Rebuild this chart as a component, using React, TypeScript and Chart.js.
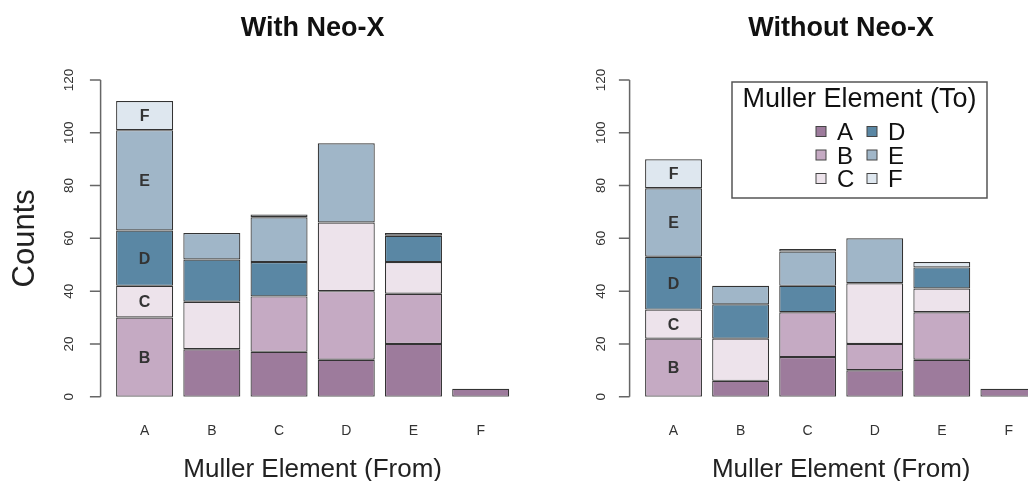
import React, { useEffect, useRef } from 'react';
import { Chart, registerables } from 'chart.js';

Chart.register(...registerables);

// Muller element the inversions come from (x categories)
const categories = ['A', 'B', 'C', 'D', 'E', 'F'];
// Muller element the inversions go to (stacked series)
const toElements = ['A', 'B', 'C', 'D', 'E', 'F'];
const yTicks = [0, 20, 40, 60, 80, 100, 120];

// With Neo-X: counts per "from" category, one array per "to" element
const withToA = [0, 18, 17, 14, 20, 3];
const withToB = [30, 0, 21, 26, 19, 0];
const withToC = [12, 18, 0, 26, 12, 0];
const withToD = [21, 16, 13, 0, 10, 0];
const withToE = [38, 10, 17, 30, 0, 0];
const withToF = [11, 0, 1, 0, 1, 0];

// Without Neo-X
const withoutToA = [0, 6, 15, 10, 14, 3];
const withoutToB = [22, 0, 17, 10, 18, 0];
const withoutToC = [11, 16, 0, 23, 9, 0];
const withoutToD = [20, 13, 10, 0, 8, 0];
const withoutToE = [26, 7, 13, 17, 0, 0];
const withoutToF = [11, 0, 1, 0, 2, 0];

const colors = ['#9d7b9c', '#c5aac3', '#ede3eb', '#5a87a4', '#a0b6c8', '#dee7ef'];
const FONT = '"Liberation Sans", Arial, Helvetica, sans-serif';

type PanelOpts = {
  title: string;
  showYTitle: boolean;
  showLegend: boolean;
  tickLabelOffset: number;
};

function makeDecor(o: PanelOpts) {
  return {
    id: 'decor',
    afterDraw(chart: any) {
      const ctx = chart.ctx as CanvasRenderingContext2D;
      const xs = chart.scales.x;
      const ys = chart.scales.y;
      const area = chart.chartArea;
      const axisX = area.left - 10.4;
      const y0 = ys.getPixelForValue(yTicks[0]);
      const y1 = ys.getPixelForValue(yTicks[yTicks.length - 1]);
      ctx.save();
      // y axis
      ctx.strokeStyle = '#666';
      ctx.lineWidth = 1.5;
      ctx.beginPath();
      ctx.moveTo(axisX, y0);
      ctx.lineTo(axisX, y1);
      yTicks.forEach((t) => {
        const py = ys.getPixelForValue(t);
        ctx.moveTo(axisX - 10.7, py);
        ctx.lineTo(axisX, py);
      });
      ctx.stroke();
      // y tick labels (rotated)
      ctx.fillStyle = '#333';
      ctx.font = `13.5px ${FONT}`;
      ctx.textAlign = 'center';
      ctx.textBaseline = 'alphabetic';
      yTicks.forEach((t) => {
        const py = ys.getPixelForValue(t);
        ctx.save();
        ctx.translate(axisX - o.tickLabelOffset + 4.8, py);
        ctx.rotate(-Math.PI / 2);
        ctx.fillText(String(t), 0, 0);
        ctx.restore();
      });
      // category labels
      ctx.fillStyle = '#333';
      ctx.font = `14px ${FONT}`;
      categories.forEach((c, i) => {
        ctx.fillText(c, xs.getPixelForValue(i), 435);
      });
      const cx = (area.left + area.right) / 2;
      // x title
      ctx.fillStyle = '#222';
      ctx.font = `26px ${FONT}`;
      ctx.fillText('Muller Element (From)', cx, 477);
      // main title
      ctx.font = `bold 27px ${FONT}`;
      ctx.fillStyle = '#111';
      ctx.fillText(o.title, cx, 36);
      // y title
      if (o.showYTitle) {
        ctx.save();
        ctx.font = `31px ${FONT}`;
        ctx.fillStyle = '#222';
        ctx.translate(34, (area.top + area.bottom) / 2);
        ctx.rotate(-Math.PI / 2);
        ctx.fillText('Counts', 0, 0);
        ctx.restore();
      }
      // segment labels inside the first bar
      ctx.font = `bold 16px ${FONT}`;
      ctx.fillStyle = '#333';
      ctx.textBaseline = 'middle';
      chart.data.datasets.forEach((ds: any, i: number) => {
        const v = ds.data[0];
        if (v == null) return;
        const el = chart.getDatasetMeta(i).data[0];
        if (!el) return;
        ctx.fillText(ds.label, el.x, (el.y + el.base) / 2 + 1);
      });
      // legend
      if (o.showLegend) {
        const bx = 172, by = 82, bw = 255, bh = 116;
        ctx.fillStyle = '#fff';
        ctx.fillRect(bx, by, bw, bh);
        ctx.strokeStyle = '#555';
        ctx.lineWidth = 1.5;
        ctx.strokeRect(bx, by, bw, bh);
        ctx.fillStyle = '#111';
        ctx.textBaseline = 'alphabetic';
        ctx.textAlign = 'center';
        ctx.font = `27px ${FONT}`;
        ctx.fillText('Muller Element (To)', bx + bw / 2, 107);
        ctx.font = `24px ${FONT}`;
        ctx.textAlign = 'left';
        const colSq = [256, 307];
        const colTx = [277, 328];
        const rowY = [131.5, 155, 178.5];
        chart.data.datasets.forEach((ds: any, i: number) => {
          const col = Math.floor(i / 3);
          const row = i % 3;
          ctx.fillStyle = ds.backgroundColor;
          ctx.fillRect(colSq[col], rowY[row] - 5, 10, 10);
          ctx.strokeStyle = '#444';
          ctx.lineWidth = 1;
          ctx.strokeRect(colSq[col], rowY[row] - 5, 10, 10);
          ctx.fillStyle = '#111';
          ctx.fillText(ds.label, colTx[col], rowY[row] + 8.6);
        });
      }
      ctx.restore();
    },
  };
}

function buildChart(canvas: HTMLCanvasElement, series: number[][], padLeft: number, padRight: number, o: PanelOpts) {
  return new Chart(canvas, {
    type: 'bar',
    data: {
      labels: categories,
      datasets: toElements.map((lab, i) => ({
        label: lab,
        data: series[i].map((v) => (v === 0 ? null : v)),
        backgroundColor: colors[i],
        borderColor: '#333',
        borderWidth: 1.2,
        borderSkipped: false,
        barPercentage: 0.848,
        categoryPercentage: 1,
      })),
    },
    options: {
      responsive: false,
      animation: false,
      layout: { padding: { left: padLeft, right: padRight, top: 80, bottom: 84.3 } },
      plugins: { legend: { display: false }, tooltip: { enabled: false }, title: { display: false } },
      scales: {
        x: { stacked: true, display: false },
        y: { stacked: true, display: false, min: 0, max: 120 },
      },
    },
    plugins: [makeDecor(o)],
  } as any);
}

export default function App() {
  const leftRef = useRef<HTMLCanvasElement>(null);
  const rightRef = useRef<HTMLCanvasElement>(null);
  useEffect(() => {
    const c1 = buildChart(
      leftRef.current!,
      [withToA, withToB, withToC, withToD, withToE, withToF],
      111,
      45.7,
      { title: 'With Neo-X', showYTitle: true, showLegend: false, tickLabelOffset: 32.4 }
    );
    const c2 = buildChart(
      rightRef.current!,
      [withoutToA, withoutToB, withoutToC, withoutToD, withoutToE, withoutToF],
      80,
      57.6,
      { title: 'Without Neo-X', showYTitle: false, showLegend: true, tickLabelOffset: 29.3 }
    );
    return () => {
      c1.destroy();
      c2.destroy();
    };
  }, []);
  return (
    <div style={{ position: 'fixed', left: 0, top: 0, width: 1028, height: 481, overflow: 'hidden', background: '#fff' }}>
      <canvas ref={leftRef} width={560} height={481} style={{ position: 'absolute', left: 0, top: 0, width: 560, height: 481 }} />
      <canvas ref={rightRef} width={540} height={481} style={{ position: 'absolute', left: 560, top: 0, width: 540, height: 481 }} />
    </div>
  );
}
